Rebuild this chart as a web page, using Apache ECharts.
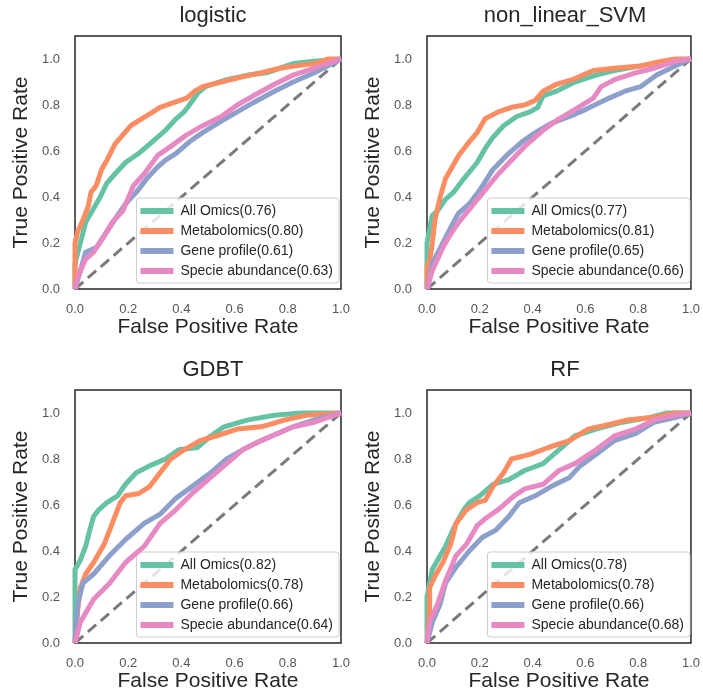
<!DOCTYPE html>
<html><head><meta charset="utf-8">
<script src="https://cdn.jsdelivr.net/npm/echarts@6/dist/echarts.min.js"></script>
<style>html,body{margin:0;padding:0;background:#fff}#c{width:703px;height:700px}</style>
</head><body><div id="c"></div>
<script>
const panelTitles = ['logistic', 'non_linear_SVM', 'GDBT', 'RF'];
const seriesLabels = ['All Omics', 'Metabolomics', 'Gene profile', 'Specie abundance'];
const aucValues = [[0.76, 0.80, 0.61, 0.63], [0.77, 0.81, 0.65, 0.66], [0.82, 0.78, 0.66, 0.64], [0.78, 0.78, 0.66, 0.68]];
const axisTicks = [0.0, 0.2, 0.4, 0.6, 0.8, 1.0];
const diagonal = [[0, 0], [1, 1]];

const logisticAllOmics = [[0,0],[0,0.11],[0.02,0.2],[0.04,0.29],[0.07,0.35],[0.09,0.39],[0.12,0.46],[0.15,0.5],[0.19,0.55],[0.24,0.59],[0.29,0.64],[0.34,0.69],[0.38,0.74],[0.41,0.77],[0.43,0.8],[0.46,0.85],[0.49,0.88],[0.57,0.91],[0.65,0.93],[0.72,0.94],[0.82,0.98],[0.9,0.99],[1,1]];
const logisticMetabolomics = [[0,0],[0,0.2],[0.01,0.25],[0.03,0.3],[0.05,0.36],[0.06,0.42],[0.08,0.45],[0.1,0.52],[0.12,0.56],[0.15,0.63],[0.18,0.67],[0.21,0.71],[0.25,0.74],[0.28,0.76],[0.32,0.79],[0.37,0.81],[0.42,0.83],[0.45,0.86],[0.48,0.88],[0.55,0.9],[0.62,0.92],[0.7,0.94],[0.77,0.96],[0.83,0.97],[0.9,0.98],[0.95,1.0],[1,1]];
const logisticGene = [[0,0],[0.02,0.08],[0.04,0.16],[0.08,0.18],[0.12,0.25],[0.16,0.32],[0.19,0.37],[0.23,0.42],[0.27,0.48],[0.31,0.53],[0.34,0.56],[0.38,0.59],[0.43,0.64],[0.48,0.68],[0.55,0.73],[0.61,0.77],[0.67,0.81],[0.75,0.86],[0.82,0.9],[0.9,0.94],[1,1]];
const logisticSpecie = [[0,0],[0.01,0.05],[0.04,0.13],[0.07,0.16],[0.11,0.23],[0.14,0.29],[0.18,0.34],[0.22,0.45],[0.26,0.5],[0.31,0.58],[0.36,0.62],[0.42,0.67],[0.48,0.71],[0.55,0.75],[0.61,0.8],[0.67,0.84],[0.75,0.89],[0.82,0.93],[0.9,0.96],[1,1]];

const svmAllOmics = [[0,0],[0,0.2],[0.02,0.32],[0.04,0.34],[0.07,0.39],[0.1,0.42],[0.14,0.48],[0.19,0.55],[0.22,0.61],[0.25,0.66],[0.29,0.71],[0.34,0.75],[0.39,0.77],[0.42,0.79],[0.44,0.84],[0.49,0.86],[0.56,0.9],[0.64,0.93],[0.71,0.95],[0.81,0.97],[0.91,0.99],[1,1]];
const svmMetabolomics = [[0,0],[0,0.1],[0.01,0.12],[0.02,0.2],[0.03,0.3],[0.05,0.4],[0.07,0.48],[0.09,0.52],[0.12,0.58],[0.16,0.64],[0.19,0.68],[0.22,0.74],[0.27,0.77],[0.32,0.79],[0.37,0.8],[0.41,0.82],[0.44,0.86],[0.49,0.89],[0.55,0.91],[0.63,0.95],[0.71,0.96],[0.81,0.97],[0.89,0.99],[0.94,1.0],[1,1]];
const svmGene = [[0,0],[0.02,0.11],[0.06,0.2],[0.1,0.29],[0.12,0.33],[0.16,0.37],[0.2,0.43],[0.25,0.52],[0.31,0.59],[0.36,0.64],[0.41,0.68],[0.47,0.72],[0.54,0.75],[0.6,0.78],[0.69,0.83],[0.75,0.86],[0.81,0.88],[0.87,0.93],[0.94,0.97],[1,1]];
const svmSpecie = [[0,0],[0.02,0.08],[0.06,0.18],[0.09,0.24],[0.12,0.29],[0.17,0.36],[0.22,0.43],[0.27,0.5],[0.32,0.56],[0.37,0.62],[0.44,0.69],[0.5,0.74],[0.56,0.78],[0.63,0.83],[0.66,0.88],[0.71,0.91],[0.79,0.94],[0.86,0.96],[0.94,0.99],[1,1]];

const gdbtAllOmics = [[0,0],[0,0.32],[0.02,0.36],[0.04,0.42],[0.06,0.51],[0.07,0.55],[0.09,0.58],[0.12,0.61],[0.16,0.64],[0.19,0.69],[0.23,0.74],[0.28,0.77],[0.34,0.8],[0.39,0.84],[0.46,0.85],[0.51,0.9],[0.56,0.94],[0.65,0.97],[0.75,0.99],[0.85,1.0],[1,1]];
const gdbtMetabolomics = [[0,0],[0.01,0.14],[0.02,0.24],[0.04,0.3],[0.07,0.35],[0.11,0.43],[0.14,0.52],[0.17,0.61],[0.19,0.64],[0.24,0.65],[0.28,0.68],[0.32,0.74],[0.36,0.8],[0.41,0.84],[0.47,0.88],[0.53,0.9],[0.61,0.93],[0.7,0.94],[0.79,0.97],[0.87,0.99],[1,1]];
const gdbtGene = [[0,0],[0.01,0.17],[0.03,0.26],[0.07,0.3],[0.13,0.38],[0.19,0.45],[0.26,0.52],[0.32,0.56],[0.38,0.63],[0.44,0.68],[0.51,0.74],[0.57,0.8],[0.63,0.84],[0.7,0.88],[0.76,0.91],[0.82,0.94],[0.9,0.97],[1,1]];
const gdbtSpecie = [[0,0],[0.02,0.09],[0.07,0.19],[0.13,0.26],[0.19,0.35],[0.26,0.42],[0.32,0.52],[0.38,0.58],[0.44,0.65],[0.51,0.72],[0.57,0.78],[0.63,0.84],[0.7,0.88],[0.76,0.91],[0.82,0.94],[0.9,0.96],[1,1]];

const rfAllOmics = [[0,0],[0,0.2],[0.01,0.26],[0.02,0.32],[0.05,0.38],[0.07,0.42],[0.11,0.52],[0.14,0.58],[0.16,0.61],[0.2,0.64],[0.25,0.69],[0.31,0.71],[0.37,0.75],[0.44,0.78],[0.5,0.84],[0.56,0.9],[0.64,0.93],[0.74,0.96],[0.84,0.98],[0.91,1.0],[1,1]];
const rfMetabolomics = [[0,0],[0.01,0.14],[0.01,0.24],[0.03,0.29],[0.06,0.35],[0.09,0.43],[0.11,0.52],[0.15,0.58],[0.19,0.61],[0.22,0.62],[0.25,0.68],[0.29,0.74],[0.32,0.8],[0.39,0.82],[0.46,0.85],[0.54,0.88],[0.61,0.93],[0.69,0.95],[0.76,0.97],[0.85,0.98],[0.94,1.0],[1,1]];
const rfGene = [[0,0],[0.02,0.09],[0.05,0.17],[0.07,0.26],[0.11,0.33],[0.16,0.4],[0.21,0.46],[0.26,0.49],[0.31,0.55],[0.35,0.61],[0.41,0.64],[0.47,0.68],[0.54,0.72],[0.58,0.77],[0.64,0.82],[0.71,0.88],[0.79,0.91],[0.86,0.96],[0.94,0.98],[1,1]];
const rfSpecie = [[0,0],[0.01,0.09],[0.04,0.17],[0.07,0.27],[0.11,0.38],[0.15,0.43],[0.19,0.51],[0.22,0.54],[0.27,0.58],[0.33,0.64],[0.37,0.67],[0.44,0.69],[0.5,0.75],[0.56,0.78],[0.64,0.84],[0.71,0.9],[0.79,0.93],[0.86,0.97],[0.94,0.99],[1,1]];

const panelCurves = [
  [logisticAllOmics, logisticMetabolomics, logisticGene, logisticSpecie],
  [svmAllOmics, svmMetabolomics, svmGene, svmSpecie],
  [gdbtAllOmics, gdbtMetabolomics, gdbtGene, gdbtSpecie],
  [rfAllOmics, rfMetabolomics, rfGene, rfSpecie]
];

// ---- layout / style ----
const colors = ['#66c2a5', '#fc8d62', '#8da0cb', '#e78ac3'];
const FONT = 'Liberation Sans, Arial, sans-serif';
const gridPos = [
  {left: 75, top: 36}, {left: 427, top: 36},
  {left: 75, top: 390}, {left: 427, top: 390}
];
const GW = 266, GH = 253;
const legendPos = [
  {right: 364, bottom: 417}, {right: 13, bottom: 417},
  {right: 364, bottom: 63}, {right: 13, bottom: 63}
];

const option = {
  animation: false,
  backgroundColor: '#fff',
  title: [], grid: [], xAxis: [], yAxis: [], legend: [], series: []
};

panelTitles.forEach((t, i) => {
  const g = gridPos[i];
  option.title.push({
    text: t, left: g.left + GW / 2, top: g.top - 36, textAlign: 'center',
    textStyle: {fontFamily: FONT, fontSize: 22, fontWeight: 'normal', color: '#262626'}
  });
  option.grid.push({
    left: g.left, top: g.top, width: GW, height: GH, show: true,
    borderColor: '#262626', borderWidth: 1.5, backgroundColor: 'transparent'
  });
  const lblStyle = {fontFamily: FONT, fontSize: 13, color: '#555'};
  option.xAxis.push({
    type: 'value', gridIndex: i, min: axisTicks[0], max: axisTicks[axisTicks.length - 1], interval: 0.2,
    axisLine: {show: false}, axisTick: {show: false}, splitLine: {show: false},
    axisLabel: Object.assign({margin: 14, formatter: v => v.toFixed(1)}, lblStyle),
    name: 'False Positive Rate', nameLocation: 'middle', nameGap: 28,
    nameTextStyle: {fontFamily: FONT, fontSize: 21, color: '#262626'}
  });
  option.yAxis.push({
    type: 'value', gridIndex: i, min: 0, max: 1.1, interval: 0.2,
    axisLine: {show: false}, axisTick: {show: false}, splitLine: {show: false},
    axisLabel: Object.assign({margin: 15, showMaxLabel: false, formatter: v => (v > 1.0001 ? '' : v.toFixed(1))}, lblStyle),
    name: 'True Positive Rate', nameLocation: 'middle', nameGap: 43,
    nameTextStyle: {fontFamily: FONT, fontSize: 21, color: '#262626'}
  });
  const names = seriesLabels.map((s, k) => s + '(' + aucValues[i][k].toFixed(2) + ')');
  option.series.push({
    type: 'line', xAxisIndex: i, yAxisIndex: i, data: diagonal, symbol: 'none', silent: true,
    lineStyle: {color: '#7a7a7a', width: 3, type: [11, 6]}, z: 1
  });
  panelCurves[i].forEach((d, k) => {
    option.series.push({
      type: 'line', name: names[k], xAxisIndex: i, yAxisIndex: i, data: d,
      symbol: 'none', showSymbol: false, color: colors[k],
      lineStyle: {color: colors[k], width: 5, join: 'round'}, z: 2 + k
    });
  });
  option.legend.push(Object.assign({
    data: names, orient: 'vertical', icon: 'rect', itemWidth: 33, itemHeight: 6, itemGap: 6,
    selectedMode: false, backgroundColor: 'rgba(255,255,255,0.8)', borderColor: '#cccccc', borderWidth: 1,
    borderRadius: 3, padding: [6, 6, 5, 4],
    textStyle: {fontFamily: FONT, fontSize: 14, lineHeight: 14, color: '#262626', padding: [0, 0, 0, 2]}
  }, legendPos[i]));
});

const chart = echarts.init(document.getElementById('c'), null, {renderer: 'canvas'});
chart.setOption(option);
</script>
</body></html>
